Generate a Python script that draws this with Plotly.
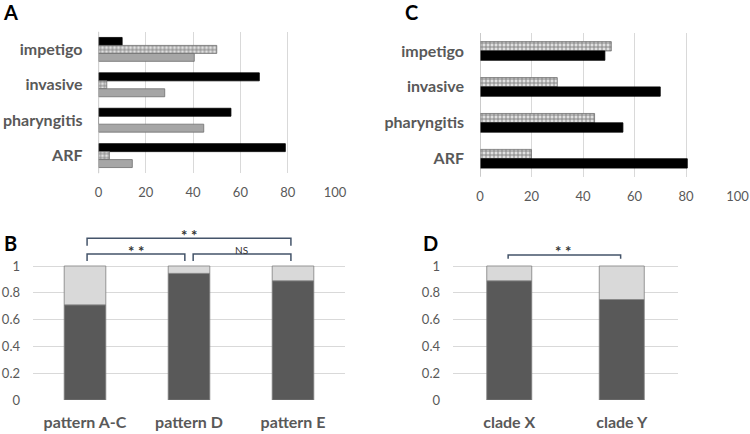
import plotly.graph_objects as go

# ---------------- data ----------------
diseases = ["impetigo", "invasive", "pharyngitis", "ARF"]
a_black = [10, 68, 56, 79]
a_hatched = [50, 3.5, 0, 4.6]
a_gray = [40.5, 28, 44.5, 14.3]

c_hatched = [51, 30, 44.5, 20]
c_black = [48.5, 70, 55.5, 80.5]

patterns = ["pattern A-C", "pattern D", "pattern E"]
b_dark = [0.71, 0.945, 0.89]

clades = ["clade X", "clade Y"]
d_dark = [0.89, 0.75]

x_ticks = [0, 20, 40, 60, 80, 100]
y_ticks = [0, 0.2, 0.4, 0.6, 0.8, 1]

FONT = "Lato"
TXT = "#595959"
GRID = "#D9D9D9"
BRACKET = "#44546A"

W, H = 750, 434


def px_x(p):
    return p / W


def px_y(p):
    return 1 - p / H


fig = go.Figure()

hatch = dict(shape="+", size=4, solidity=0.4, fgcolor="#7F7F7F", bgcolor="#E0E0E0")

# ---- Panel A ----
fig.add_trace(go.Bar(y=diseases, x=a_black, orientation="h", width=0.225, offset=-0.3375,
                     marker=dict(color="#000000", line=dict(color="#000000", width=0.8)),
                     xaxis="x", yaxis="y", showlegend=False))
fig.add_trace(go.Bar(y=diseases, x=a_hatched, orientation="h", width=0.225, offset=-0.1125,
                     marker=dict(color="#E0E0E0", pattern=hatch, line=dict(color="#6E6E6E", width=0.8)),
                     xaxis="x", yaxis="y", showlegend=False))
fig.add_trace(go.Bar(y=diseases, x=a_gray, orientation="h", width=0.225, offset=0.1125,
                     marker=dict(color="#A6A6A6", line=dict(color="#6E6E6E", width=0.8)),
                     xaxis="x", yaxis="y", showlegend=False))

# ---- Panel C ----
fig.add_trace(go.Bar(y=diseases, x=c_hatched, orientation="h", width=0.26, offset=-0.26,
                     marker=dict(color="#E0E0E0", pattern=hatch, line=dict(color="#6E6E6E", width=0.8)),
                     xaxis="x2", yaxis="y2", showlegend=False))
fig.add_trace(go.Bar(y=diseases, x=c_black, orientation="h", width=0.26, offset=0.0,
                     marker=dict(color="#000000", line=dict(color="#000000", width=0.8)),
                     xaxis="x2", yaxis="y2", showlegend=False))

# ---- Panel B ----
fig.add_trace(go.Bar(x=patterns, y=b_dark, width=0.4, offset=-0.2,
                     marker=dict(color="#595959", line=dict(color="#7F7F7F", width=0.8)),
                     xaxis="x3", yaxis="y3", showlegend=False))
fig.add_trace(go.Bar(x=patterns, y=[1 - v for v in b_dark], base=b_dark, width=0.4, offset=-0.2,
                     marker=dict(color="#D9D9D9", line=dict(color="#7F7F7F", width=0.8)),
                     xaxis="x3", yaxis="y3", showlegend=False))

# ---- Panel D ----
fig.add_trace(go.Bar(x=clades, y=d_dark, width=0.4, offset=-0.2,
                     marker=dict(color="#595959", line=dict(color="#7F7F7F", width=0.8)),
                     xaxis="x4", yaxis="y4", showlegend=False))
fig.add_trace(go.Bar(x=clades, y=[1 - v for v in d_dark], base=d_dark, width=0.4, offset=-0.2,
                     marker=dict(color="#D9D9D9", line=dict(color="#7F7F7F", width=0.8)),
                     xaxis="x4", yaxis="y4", showlegend=False))

num_font = dict(family=FONT, size=13, color=TXT)
cat_font = dict(family=FONT, size=16, color=TXT, weight="bold")

hx_common = dict(range=[0, 100], tickvals=x_ticks, showgrid=True, gridcolor=GRID, gridwidth=1,
                 zeroline=False, showline=False, tickfont=num_font, ticklabelstandoff=10,
                 automargin=False, ticklabeloverflow="allow")
hy_common = dict(autorange="reversed", tickfont=cat_font, showgrid=False, zeroline=False,
                 showline=False, ticklabelstandoff=15, automargin=False)

# B/D y range extends above 1 to host brackets; 1 maps to y px 266, 0 to 400
ytop = 1.45
y_px0, y_px1 = 400, 266
ppu = y_px0 - y_px1
dom_top = y_px0 - ytop * ppu

vy_common = dict(range=[0, ytop], tickvals=y_ticks, ticktext=["0", "0.2", "0.4", "0.6", "0.8", "1"],
                 showgrid=True, gridcolor=GRID, gridwidth=1, zeroline=False, showline=False,
                 tickfont=num_font, ticklabelstandoff=12, automargin=False)
vx_common = dict(showgrid=False, zeroline=False, showline=False,
                 tickfont=dict(family=FONT, size=16, color=TXT, weight="bold"),
                 ticklabelstandoff=11, automargin=False)

fig.update_layout(
    width=W, height=H,
    template="none",
    margin=dict(l=0, r=0, t=0, b=0),
    paper_bgcolor="white", plot_bgcolor="white",
    barmode="overlay",
    xaxis=dict(domain=[px_x(98.5), px_x(335)], anchor="y", **hx_common),
    yaxis=dict(domain=[px_y(173.3), px_y(31.7)], anchor="x", **hy_common),
    xaxis2=dict(domain=[px_x(480), px_x(737.5)], anchor="y2", **hx_common),
    yaxis2=dict(domain=[px_y(176.7), px_y(33)], anchor="x2", **hy_common),
    xaxis3=dict(domain=[px_x(33), px_x(345)], anchor="y3", range=[-0.5, 2.5], **vx_common),
    yaxis3=dict(domain=[px_y(y_px0), px_y(dom_top)], anchor="x3", **vy_common),
    xaxis4=dict(domain=[px_x(453), px_x(678)], anchor="y4", range=[-0.5, 1.5], **vx_common),
    yaxis4=dict(domain=[px_y(y_px0), px_y(dom_top)], anchor="x4", **vy_common),
)

shapes = []
# vertical axis lines at 0 for horizontal panels
for xr, yr in (("x", "y"), ("x2", "y2")):
    shapes.append(dict(type="line", xref=xr, yref=yr + " domain", x0=0, x1=0, y0=0, y1=1,
                       line=dict(color="#A6A6A6", width=1.2)))


def bracket(xr, yr, x0, x1, ytop_, ybot):
    shapes.append(dict(type="path", xref=xr, yref=yr,
                       path=f"M {x0},{ybot} L {x0},{ytop_} L {x1},{ytop_} L {x1},{ybot}",
                       line=dict(color=BRACKET, width=1.5)))


bracket("x3", "y3", 0.02, 1.98, 1.207, 1.152)
bracket("x3", "y3", 0.02, 0.96, 1.09, 1.037)
bracket("x3", "y3", 1.04, 1.98, 1.09, 1.037)
bracket("x4", "y4", -0.01, 0.99, 1.082, 1.055)

fig.update_layout(shapes=shapes)

ann = []
for lbl, x, y in (("A", 10, 12), ("C", 411, 12), ("B", 10, 243), ("D", 430, 243)):
    ann.append(dict(text=lbl, xref="paper", yref="paper", x=px_x(x), y=px_y(y), showarrow=False,
                    xanchor="center", yanchor="middle",
                    font=dict(family=FONT, size=20, color="#000000", weight="bold")))

star_font = dict(family=FONT, size=15, color="#333333", weight="bold")
ann.append(dict(text="* *", xref="x3", yref="y3", x=1.0, y=1.15, showarrow=False, yanchor="bottom", font=star_font))
ann.append(dict(text="* *", xref="x3", yref="y3", x=0.49, y=1.028, showarrow=False, yanchor="bottom", font=star_font))
ann.append(dict(text="NS", xref="x3", yref="y3", x=1.5, y=1.06, showarrow=False, yanchor="bottom",
                font=dict(family=FONT, size=10, color="#333333")))
ann.append(dict(text="* *", xref="x4", yref="y4", x=0.48, y=1.032, showarrow=False, yanchor="bottom", font=star_font))

fig.update_layout(annotations=ann)

fig.write_html("out.html", config={"displayModeBar": False},
               post_script="document.body.style.margin='0';document.body.style.overflow='hidden';")
